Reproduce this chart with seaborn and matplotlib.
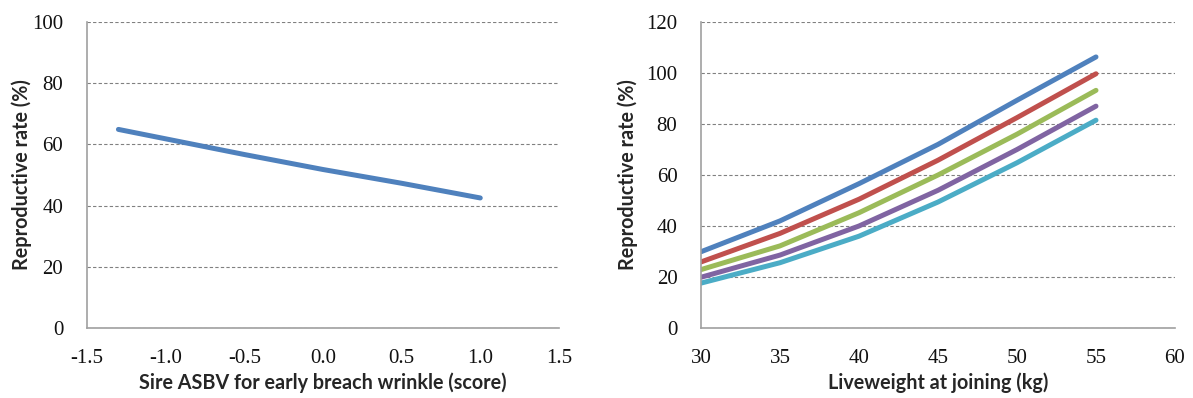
import numpy as np
import pandas as pd
import matplotlib.pyplot as plt
import seaborn as sns

# left panel: wrinkle score vs reproductive rate
wrinkle = [-1.3, -0.5, 0.0, 0.5, 1.0]
wrinkle_rate = [64.9, 56.7, 51.8, 47.3, 42.5]

# right panel: liveweight vs reproductive rate, five curves
liveweight = [30, 35, 40, 45, 50, 55]
rate_blue = [29.9, 42.0, 56.6, 72.0, 89.3, 106.3]
rate_red = [25.9, 37.1, 50.5, 65.8, 82.5, 99.7]
rate_green = [22.9, 32.2, 45.2, 60.0, 76.0, 93.2]
rate_purple = [19.9, 28.6, 40.0, 54.0, 70.0, 87.0]
rate_cyan = [17.6, 25.6, 36.0, 49.4, 64.8, 81.5]

colors = ['#4F81BD', '#C0504D', '#9BBB59', '#8064A2', '#4BACC6']

sns.set_style('white')
plt.rcParams['font.family'] = ['Liberation Serif', 'DejaVu Serif']

left_df = pd.DataFrame({'x': wrinkle, 'y': wrinkle_rate})
right_df = pd.concat([
    pd.DataFrame({'x': liveweight, 'y': vals, 'series': name})
    for name, vals in zip(['s1', 's2', 's3', 's4', 's5'],
                          [rate_blue, rate_red, rate_green, rate_purple, rate_cyan])
])

fig = plt.figure(figsize=(11.93, 3.98), dpi=100)
ax1 = fig.add_axes([0.0729, 0.1759, 0.3956, 0.7688])
ax2 = fig.add_axes([0.5876, 0.1759, 0.3973, 0.7688])

sns.lineplot(data=left_df, x='x', y='y', ax=ax1, color=colors[0], lw=3.6,
             solid_capstyle='round')
sns.lineplot(data=right_df, x='x', y='y', hue='series', palette=colors, ax=ax2,
             lw=3.6, legend=False, solid_capstyle='round')

label_font = dict(family='Lato', weight='bold', size=14.2)

def style(ax, xlim, ylim, xticks, yticks, xfmt, xlabel, ylabelpad):
    ax.set_xlim(*xlim)
    ax.set_ylim(*ylim)
    ax.set_xticks(xticks)
    ax.set_yticks(yticks)
    ax.set_xticklabels([xfmt.format(v) for v in xticks])
    ax.set_yticklabels([str(v) for v in yticks])
    ax.tick_params(axis='both', labelsize=15, length=5, width=1,
                   color='#A0A0A0', labelcolor='#111111', direction='out')
    ax.tick_params(axis='x', pad=10)
    ax.tick_params(axis='y', pad=12)
    for s in ['top', 'right']:
        ax.spines[s].set_visible(False)
    for s in ['left', 'bottom']:
        ax.spines[s].set_color('#A0A0A0')
        ax.spines[s].set_linewidth(1.2)
    ax.yaxis.grid(True, ls=(0, (3, 2)), color='#808080', lw=0.8)
    ax.set_axisbelow(True)
    ax.set_xlabel(xlabel, fontdict=label_font, labelpad=3)
    ax.set_ylabel('Reproductive rate (%)', fontdict=label_font, labelpad=ylabelpad)

style(ax1, (-1.5, 1.5), (0, 100), [-1.5, -1.0, -0.5, 0.0, 0.5, 1.0, 1.5],
      [0, 20, 40, 60, 80, 100], '{:.1f}', 'Sire ASBV for early breach wrinkle (score)', 0)
style(ax2, (30, 60), (0, 120), [30, 35, 40, 45, 50, 55, 60],
      [0, 20, 40, 60, 80, 100, 120], '{:d}', 'Liveweight at joining (kg)', 6)

fig.savefig('out.png', dpi=100)
